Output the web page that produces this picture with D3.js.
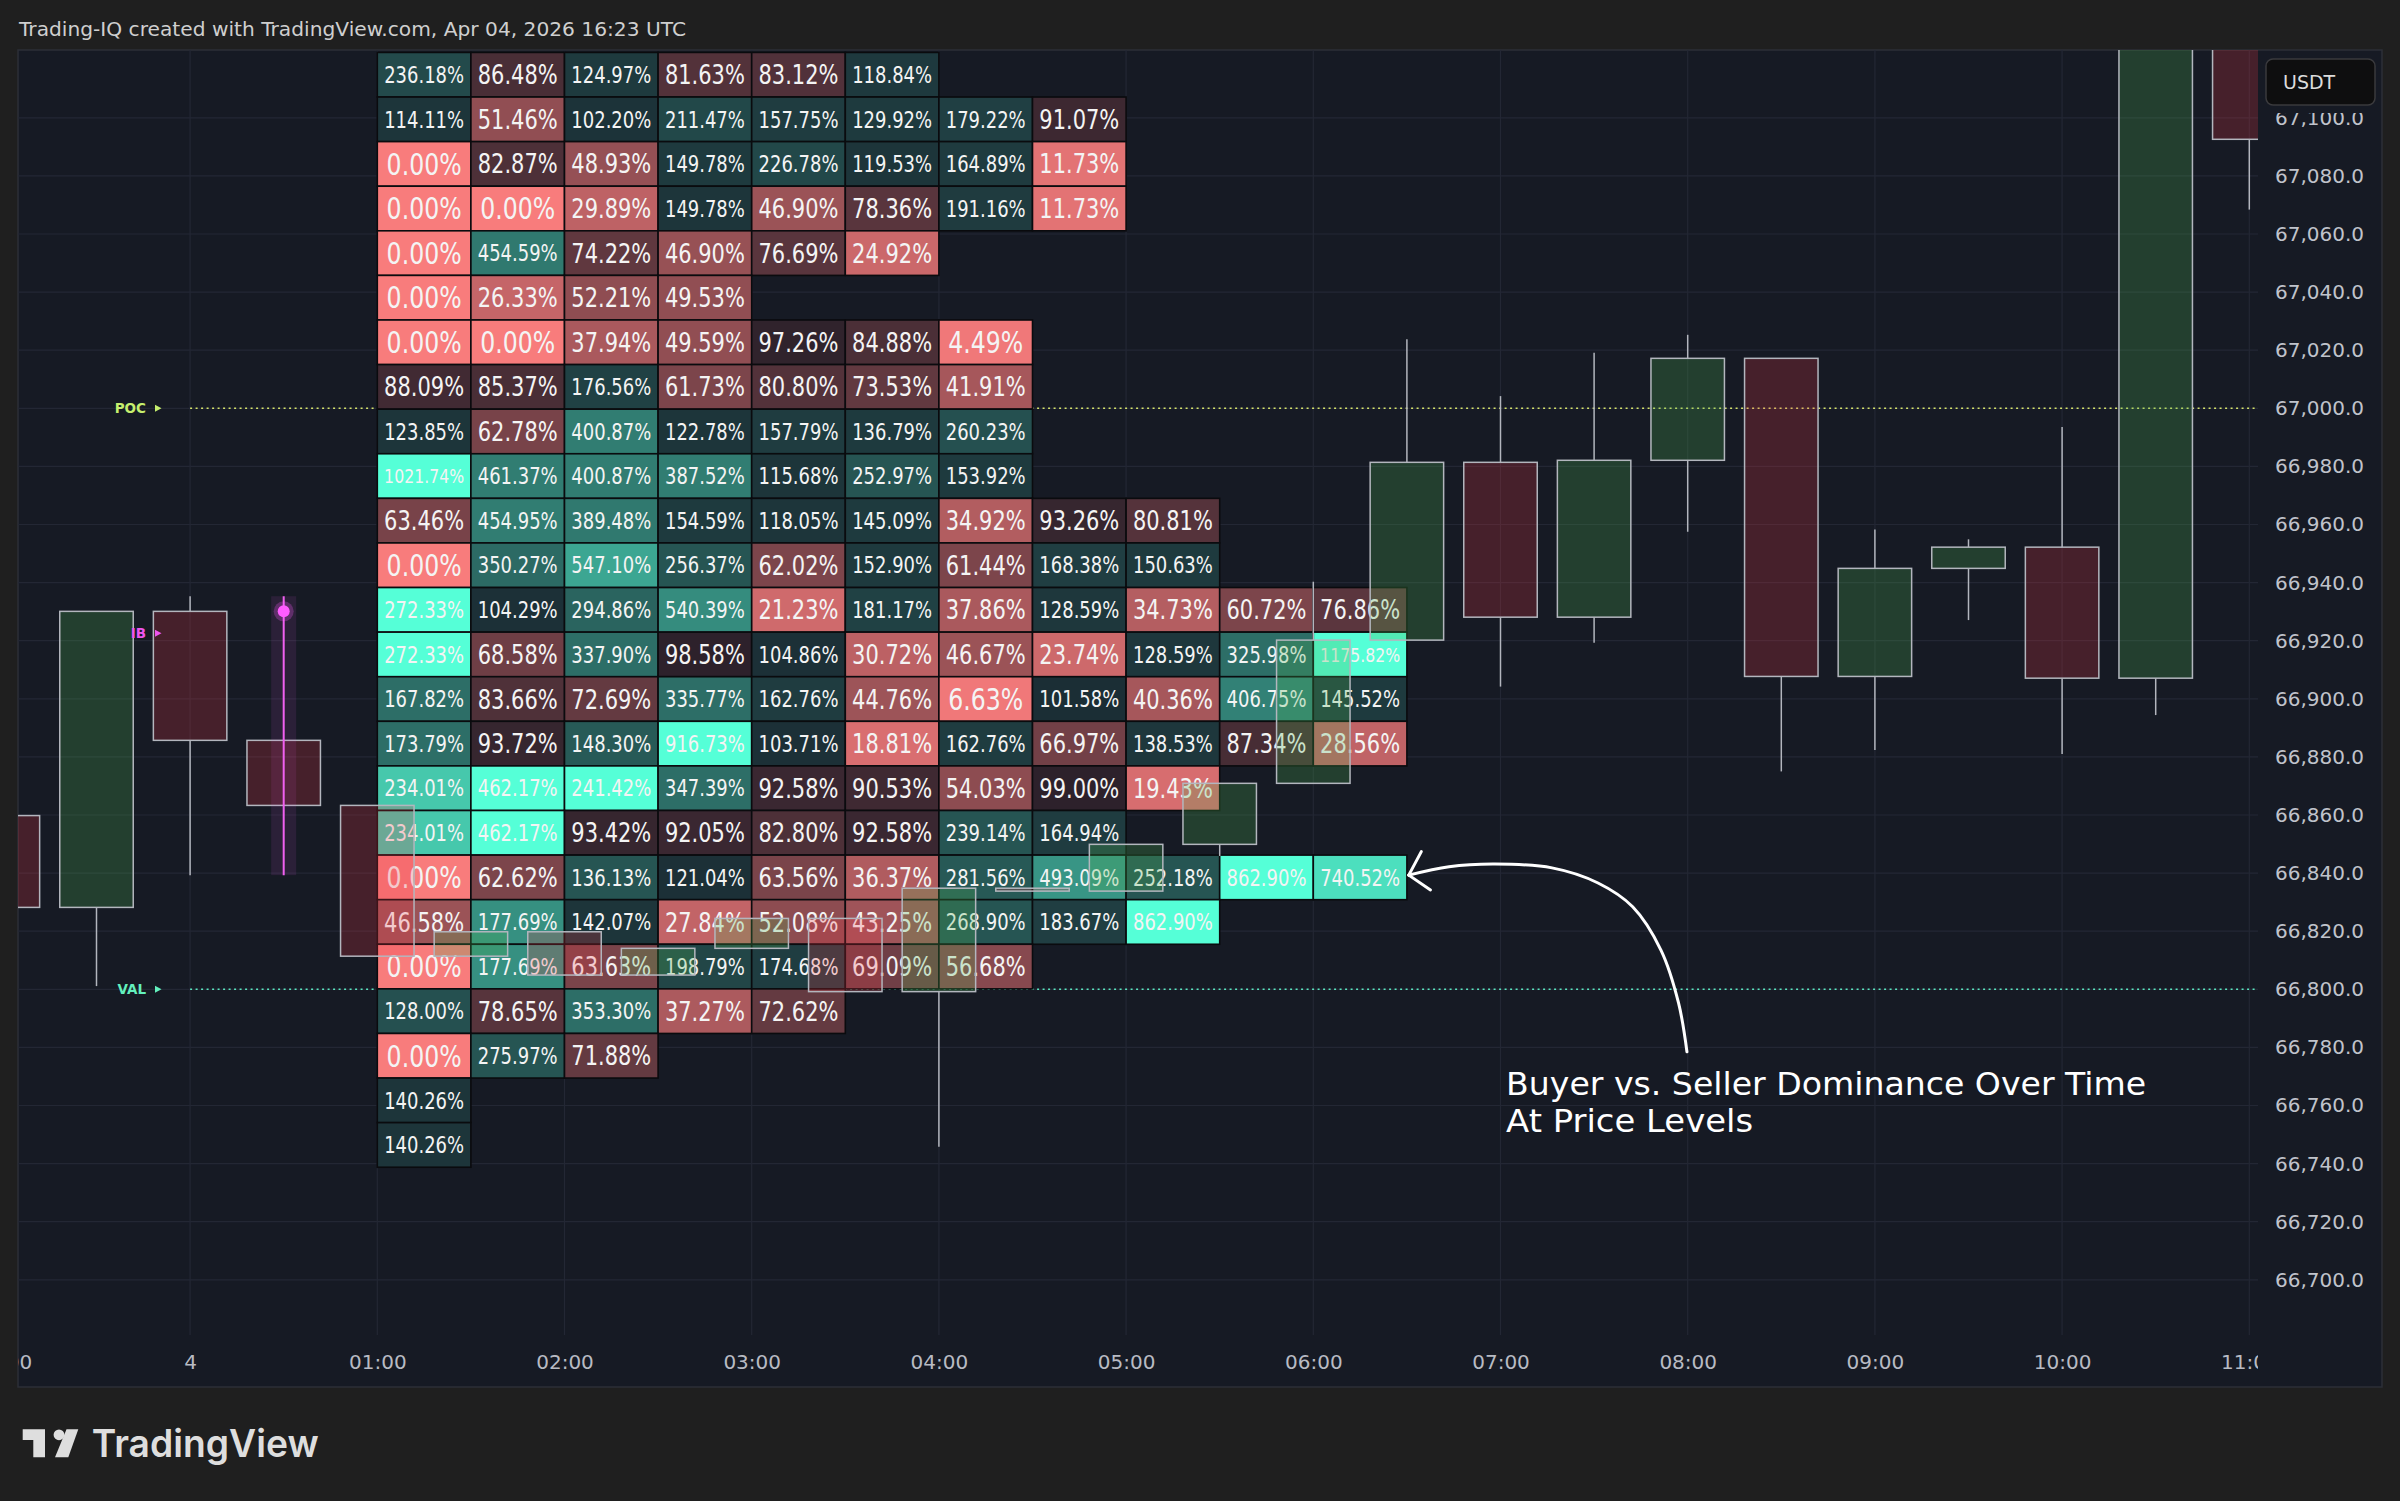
<!DOCTYPE html>
<html>
<head>
<meta charset="utf-8">
<script src="https://cdn.jsdelivr.net/npm/d3@7"></script>
<style>
html, body { margin: 0; padding: 0; background: #1f1f1f; }
svg { display: block; }
</style>
</head>
<body>
<svg id="chart" width="2400" height="1501"></svg>
<script>
// ---- data ----
var headerText = "Trading-IQ created with TradingView.com, Apr 04, 2026 16:23 UTC";

// 30 min candles
var candleTime = ["2026-04-03 23:00","2026-04-03 23:30","2026-04-04 00:00","2026-04-04 00:30","2026-04-04 01:00",
  "2026-04-04 01:30","2026-04-04 02:00","2026-04-04 02:30","2026-04-04 03:00","2026-04-04 03:30",
  "2026-04-04 04:00","2026-04-04 04:30","2026-04-04 05:00","2026-04-04 05:30","2026-04-04 06:00",
  "2026-04-04 06:30","2026-04-04 07:00","2026-04-04 07:30","2026-04-04 08:00","2026-04-04 08:30",
  "2026-04-04 09:00","2026-04-04 09:30","2026-04-04 10:00","2026-04-04 10:30","2026-04-04 11:00"];
var candleOpen  = [66859.8, 66828.2, 66930.1, 66885.7, 66863.3, 66811.4, 66819.8, 66804.9, 66814.1, 66824.4, 66799.2, 66834.8, 66833.8, 66849.9, 66870.9, 66920.2, 66981.4, 66928.1, 66982.1, 67017.2, 66907.7, 66944.9, 66952.2, 66907.1, 67135.0];
var candleHigh  = [66859.8, 66930.1, 66935.3, 66885.7, 66863.3, 66819.8, 66819.8, 66814.1, 66824.4, 66824.4, 66834.8, 66834.8, 66849.9, 66870.9, 66940.3, 67023.8, 67004.2, 67019.1, 67025.3, 67017.2, 66958.3, 66954.9, 66993.6, 67135.0, 67135.0];
var candleLow   = [66828.2, 66801.1, 66839.3, 66863.3, 66811.4, 66811.4, 66804.9, 66804.9, 66814.1, 66799.2, 66745.8, 66833.8, 66833.8, 66845.9, 66870.9, 66920.2, 66904.2, 66919.3, 66957.5, 66875.0, 66882.4, 66927.1, 66881.0, 66894.4, 67068.4];
var candleClose = [66828.2, 66930.1, 66885.7, 66863.3, 66811.4, 66819.8, 66804.9, 66814.1, 66824.4, 66799.2, 66834.8, 66833.8, 66849.9, 66870.9, 66920.2, 66981.4, 66928.1, 66982.1, 67017.2, 66907.7, 66944.9, 66952.2, 66907.1, 67135.0, 67092.6];

// dominance table: rows from top price bin down, columns = 30 min periods from 01:00
var tableStart = "2026-04-04 01:00";
var tableTopPrice = 67122.5;
var tableBinSize = 15.35;
var cellValues = [
  [236.18, 86.48, 124.97, 81.63, 83.12, 118.84],
  [114.11, 51.46, 102.20, 211.47, 157.75, 129.92, 179.22, 91.07],
  [0.00, 82.87, 48.93, 149.78, 226.78, 119.53, 164.89, 11.73],
  [0.00, 0.00, 29.89, 149.78, 46.90, 78.36, 191.16, 11.73],
  [0.00, 454.59, 74.22, 46.90, 76.69, 24.92],
  [0.00, 26.33, 52.21, 49.53],
  [0.00, 0.00, 37.94, 49.59, 97.26, 84.88, 4.49],
  [88.09, 85.37, 176.56, 61.73, 80.80, 73.53, 41.91],
  [123.85, 62.78, 400.87, 122.78, 157.79, 136.79, 260.23],
  [1021.74, 461.37, 400.87, 387.52, 115.68, 252.97, 153.92],
  [63.46, 454.95, 389.48, 154.59, 118.05, 145.09, 34.92, 93.26, 80.81],
  [0.00, 350.27, 547.10, 256.37, 62.02, 152.90, 61.44, 168.38, 150.63],
  [272.33, 104.29, 294.86, 540.39, 21.23, 181.17, 37.86, 128.59, 34.73, 60.72, 76.86],
  [272.33, 68.58, 337.90, 98.58, 104.86, 30.72, 46.67, 23.74, 128.59, 325.98, 1175.82],
  [167.82, 83.66, 72.69, 335.77, 162.76, 44.76, 6.63, 101.58, 40.36, 406.75, 145.52],
  [173.79, 93.72, 148.30, 916.73, 103.71, 18.81, 162.76, 66.97, 138.53, 87.34, 28.56],
  [234.01, 462.17, 241.42, 347.39, 92.58, 90.53, 54.03, 99.00, 19.43],
  [234.01, 462.17, 93.42, 92.05, 82.80, 92.58, 239.14, 164.94],
  [0.00, 62.62, 136.13, 121.04, 63.56, 36.37, 281.56, 493.09, 252.18, 862.90, 740.52],
  [46.58, 177.69, 142.07, 27.84, 52.08, 43.25, 268.90, 183.67, 862.90],
  [0.00, 177.69, 63.63, 198.79, 174.68, 69.09, 56.68],
  [128.00, 78.65, 353.30, 37.27, 72.62],
  [0.00, 275.97, 71.88],
  [140.26],
  [140.26]
];
// colour strength of every cell (0 = dark, 1 = full colour)
var cellShades = [
  [0.15, 0.15, 0.075, 0.2, 0.19, 0.07],
  [0.05, 0.5, 0.04, 0.14, 0.085, 0.075, 0.1, 0.09],
  [1, 0.17, 0.52, 0.075, 0.14, 0.05, 0.08, 0.9],
  [1, 1, 0.72, 0.05, 0.55, 0.23, 0.08, 0.9],
  [1, 0.37, 0.26, 0.53, 0.23, 0.78],
  [1, 0.75, 0.49, 0.5],
  [1, 1, 0.62, 0.5, 0.03, 0.16, 0.96],
  [0.11, 0.15, 0.11, 0.4, 0.2, 0.27, 0.6],
  [0.05, 0.38, 0.39, 0.05, 0.085, 0.075, 0.18],
  [1, 0.39, 0.39, 0.39, 0.05, 0.2, 0.075],
  [0.38, 0.39, 0.37, 0.075, 0.05, 0.075, 0.66, 0.06, 0.21],
  [1, 0.3, 0.58, 0.2, 0.4, 0.075, 0.4, 0.094, 0.075],
  [1, 0.03, 0.27, 0.46, 0.8, 0.11, 0.62, 0.06, 0.67, 0.4, 0.24],
  [1, 0.33, 0.32, 0.015, 0.03, 0.71, 0.55, 0.79, 0.06, 0.32, 1],
  [0.32, 0.18, 0.28, 0.32, 0.085, 0.56, 0.96, 0.02, 0.6, 0.41, 0.075],
  [0.32, 0.06, 0.225, 1, 0.03, 0.85, 0.085, 0.35, 0.06, 0.14, 0.73],
  [0.74, 1, 1, 0.32, 0.08, 0.1, 0.48, 0.015, 0.84],
  [0.74, 1, 0.06, 0.08, 0.17, 0.08, 0.2, 0.085],
  [1, 0.4, 0.2, 0.03, 0.39, 0.65, 0.22, 0.5, 0.2, 1, 0.85],
  [0.55, 0.48, 0.05, 0.74, 0.48, 0.57, 0.2, 0.094, 1],
  [1, 0.48, 0.39, 0.13, 0.09, 0.34, 0.45],
  [0.18, 0.22, 0.32, 0.63, 0.28],
  [1, 0.2, 0.28],
  [0.05],
  [0.05]
];

// profile levels
var levelNames = ["POC", "VAL", "IB"];
var levelPrices = [67000, 66800, 66922.6];
var levelLineStart = "2026-04-04 00:00";
// initial balance range marker
var ibTime = "2026-04-04 00:30";
var ibHigh = 66935.3, ibLow = 66839.3, ibDot = 66930.1;

var priceTicks = [66700, 66720, 66740, 66760, 66780, 66800, 66820, 66840, 66860, 66880, 66900,
  66920, 66940, 66960, 66980, 67000, 67020, 67040, 67060, 67080, 67100];
var timeTicks = ["2026-04-03 23:00","2026-04-04 00:00","2026-04-04 01:00","2026-04-04 02:00","2026-04-04 03:00",
  "2026-04-04 04:00","2026-04-04 05:00","2026-04-04 06:00","2026-04-04 07:00","2026-04-04 08:00",
  "2026-04-04 09:00","2026-04-04 10:00","2026-04-04 11:00"];

// annotation (hours after 00:00, price)
var noteLines = ["Buyer vs. Seller Dominance Over Time", "At Price Levels"];
var noteAt = [7.03, 66763.6];
var arrowCurve = [[7.996, 66778.5], [7.951, 66795.3], [7.857, 66813.5], [7.706, 66828.4], [7.521, 66836.6],
  [7.275, 66841.8], [6.970, 66843.1], [6.725, 66842.2], [6.510, 66839.3]];
var arrowBarbs = [[6.577, 66847.4], [6.626, 66834.2]];

// ---- layout ----
var W = 2400, H = 1501;
var pane = {left: 18, top: 50, right: 2382, bottom: 1387};
var plot = {left: 18, top: 50, right: 2258, bottom: 1335};
var font = "'DejaVu Sans', sans-serif";
var paneBg = "#161a24";

var parse = d3.utcParse("%Y-%m-%d %H:%M");
var dayStart = parse("2026-04-04 00:00");
function atHour(h){ return new Date(dayStart.getTime() + h * 3600000); }
var halfHour = 30 * 60000;

var xScale = d3.scaleUtc()
  .domain([parse("2026-04-04 00:00"), parse("2026-04-04 11:00")])
  .range([190.1, 2249.3]);
var yScale = d3.scaleLinear()
  .domain([67000, 66700])
  .range([408.3, 1279.8]);

var buyColor = d3.interpolateRgb("rgb(26,42,50)", "rgb(85,255,215)");
var sellColor = d3.interpolateRgb("rgb(42,32,42)", "rgb(248,124,124)");

var svg = d3.select("#chart");
svg.append("rect").attr("width", W).attr("height", H).attr("fill", "#1f1f1f");

svg.append("text")
  .attr("x", 19).attr("y", 36)
  .attr("fill", "#cfcfcf")
  .style("font-family", font).style("font-size", "20px")
  .attr("textLength", 667).attr("lengthAdjust", "spacingAndGlyphs")
  .text(headerText);

svg.append("rect")
  .attr("x", pane.left).attr("y", pane.top)
  .attr("width", pane.right - pane.left).attr("height", pane.bottom - pane.top)
  .attr("fill", paneBg).attr("stroke", "#2c2f37").attr("stroke-width", 1.5);

var defs = svg.append("defs");
defs.append("clipPath").attr("id", "plotClip").append("rect")
  .attr("x", plot.left).attr("y", plot.top)
  .attr("width", plot.right - plot.left).attr("height", plot.bottom - plot.top);
defs.append("clipPath").attr("id", "timeClip").append("rect")
  .attr("x", plot.left).attr("y", plot.bottom)
  .attr("width", plot.right - plot.left).attr("height", pane.bottom - plot.bottom);

var g = svg.append("g").attr("clip-path", "url(#plotClip)");

// grid
g.selectAll(".hgrid").data(priceTicks).enter().append("line")
  .attr("x1", plot.left).attr("x2", plot.right)
  .attr("y1", d => yScale(d)).attr("y2", d => yScale(d))
  .attr("stroke", "#232734").attr("stroke-width", 1.2);
g.selectAll(".vgrid").data(timeTicks).enter().append("line")
  .attr("x1", d => xScale(parse(d))).attr("x2", d => xScale(parse(d)))
  .attr("y1", plot.top).attr("y2", plot.bottom)
  .attr("stroke", "#232734").attr("stroke-width", 1.2);

// POC / VAL dotted lines (under the table)
var levelLineColor = {POC: "#d6e36a", VAL: "#5be6bf"};
[0, 1].forEach(function(i){
  g.append("line")
    .attr("x1", xScale(parse(levelLineStart))).attr("x2", plot.right)
    .attr("y1", yScale(levelPrices[i])).attr("y2", yScale(levelPrices[i]))
    .attr("stroke", levelLineColor[levelNames[i]])
    .attr("stroke-width", 1.6).attr("stroke-dasharray", "2,3.5");
});

// dominance table
var t0 = parse(tableStart);
var cells = [];
cellValues.forEach(function(row, r){
  row.forEach(function(v, c){
    cells.push({r: r, c: c, v: v, s: cellShades[r][c]});
  });
});

var cellG = g.selectAll(".cell").data(cells).enter().append("g").attr("class", "cell");
cellG.append("rect")
  .attr("x", d => xScale(new Date(t0.getTime() + d.c * halfHour)))
  .attr("y", d => yScale(tableTopPrice - d.r * tableBinSize))
  .attr("width", d => xScale(new Date(t0.getTime() + (d.c + 1) * halfHour)) - xScale(new Date(t0.getTime() + d.c * halfHour)))
  .attr("height", d => yScale(tableTopPrice - (d.r + 1) * tableBinSize) - yScale(tableTopPrice - d.r * tableBinSize))
  .attr("fill", d => d.v >= 100 ? buyColor(d.s) : sellColor(d.s))
  .attr("stroke", "#0a0b0e").attr("stroke-width", 1.6);

cellG.append("text")
  .attr("text-anchor", "middle")
  .attr("fill", "#f4f4f4")
  .style("font-family", font)
  .style("font-size", "10px")
  .text(d => d.v.toFixed(2) + "%")
  .each(function(d){
    var w10 = this.getComputedTextLength();
    var fs = Math.min(29.5, 80 / (0.8 * w10 / 10));
    var cx = (xScale(new Date(t0.getTime() + d.c * halfHour)) + xScale(new Date(t0.getTime() + (d.c + 1) * halfHour))) / 2;
    var cy = yScale(tableTopPrice - (d.r + 0.5) * tableBinSize);
    d3.select(this).style("font-size", fs + "px")
      .attr("transform", "translate(" + cx + "," + (cy + 0.365 * fs) + ") scale(0.8,1)");
  });

// candles (drawn over the table, translucent)
var candles = candleTime.map(function(t, i){
  return {t: parse(t), o: candleOpen[i], h: candleHigh[i], l: candleLow[i], c: candleClose[i]};
});
var bodyW = (xScale(new Date(t0.getTime() + halfHour)) - xScale(t0)) * 0.785;
var outline = "#b3b6be";

var cg = g.selectAll(".candle").data(candles).enter().append("g").attr("class", "candle");
cg.append("line")
  .attr("x1", d => xScale(d.t)).attr("x2", d => xScale(d.t))
  .attr("y1", d => yScale(d.h)).attr("y2", d => yScale(Math.max(d.o, d.c)))
  .attr("stroke", outline).attr("stroke-width", 1.5);
cg.append("line")
  .attr("x1", d => xScale(d.t)).attr("x2", d => xScale(d.t))
  .attr("y1", d => yScale(Math.min(d.o, d.c))).attr("y2", d => yScale(d.l))
  .attr("stroke", outline).attr("stroke-width", 1.5);
cg.append("rect")
  .attr("x", d => xScale(d.t) - bodyW / 2)
  .attr("y", d => yScale(Math.max(d.o, d.c)))
  .attr("width", bodyW)
  .attr("height", d => Math.max(1, yScale(Math.min(d.o, d.c)) - yScale(Math.max(d.o, d.c))))
  .attr("fill", d => d.c >= d.o ? "rgba(76,175,80,0.25)" : "rgba(242,54,69,0.22)")
  .attr("stroke", outline).attr("stroke-width", 1.5);

// initial balance marker
var ibx = xScale(parse(ibTime));
g.append("rect")
  .attr("x", ibx - 12.5).attr("width", 25)
  .attr("y", yScale(ibHigh)).attr("height", yScale(ibLow) - yScale(ibHigh))
  .attr("fill", "rgba(238,85,238,0.10)");
g.append("line")
  .attr("x1", ibx).attr("x2", ibx)
  .attr("y1", yScale(ibHigh)).attr("y2", yScale(ibLow))
  .attr("stroke", "#f060f0").attr("stroke-width", 2);
g.append("circle").attr("cx", ibx).attr("cy", yScale(ibDot)).attr("r", 10)
  .attr("fill", "rgba(255,92,255,0.25)");
g.append("circle").attr("cx", ibx).attr("cy", yScale(ibDot)).attr("r", 6)
  .attr("fill", "#ff5cff");

// level labels
var levelLabelColor = {POC: "#c6ef6e", VAL: "#63f0bd", IB: "#ee55ee"};
levelNames.forEach(function(n, i){
  var y = yScale(levelPrices[i]);
  g.append("text")
    .attr("x", 146).attr("y", y + 5)
    .attr("text-anchor", "end")
    .attr("fill", levelLabelColor[n])
    .style("font-family", font).style("font-size", "13.5px").style("font-weight", "bold")
    .text(n);
  g.append("path")
    .attr("d", "M" + 155 + "," + (y - 3.5) + "L" + 161.5 + "," + y + "L" + 155 + "," + (y + 3.5) + "Z")
    .attr("fill", levelLabelColor[n]);
});

// annotation
var arrowLine = d3.line()
  .x(d => xScale(atHour(d[0])))
  .y(d => yScale(d[1]))
  .curve(d3.curveCatmullRom);
g.append("path").datum(arrowCurve)
  .attr("d", arrowLine)
  .attr("fill", "none").attr("stroke", "#ffffff").attr("stroke-width", 3).attr("stroke-linecap", "round");
var tip = arrowCurve[arrowCurve.length - 1];
arrowBarbs.forEach(function(b){
  g.append("path").datum([tip, b])
    .attr("d", d3.line().x(d => xScale(atHour(d[0]))).y(d => yScale(d[1])))
    .attr("fill", "none").attr("stroke", "#ffffff").attr("stroke-width", 3).attr("stroke-linecap", "round");
});
var noteWidths = [640, 247];
noteLines.forEach(function(t, i){
  g.append("text")
    .attr("x", xScale(atHour(noteAt[0])))
    .attr("y", yScale(noteAt[1]) + i * 36.7)
    .attr("fill", "#ffffff")
    .style("font-family", font).style("font-size", "32px")
    .attr("textLength", noteWidths[i]).attr("lengthAdjust", "spacingAndGlyphs")
    .text(t);
});

// time axis
var xAxis = d3.axisBottom(xScale)
  .tickValues(timeTicks.map(parse))
  .tickSize(0).tickPadding(20)
  .tickFormat(function(d){ return d.getUTCHours() === 0 ? d3.utcFormat("%-d")(d) : d3.utcFormat("%H:%M")(d); });
var gx = svg.append("g").attr("clip-path", "url(#timeClip)")
  .append("g").attr("transform", "translate(0," + plot.bottom + ")").call(xAxis);
gx.select(".domain").remove();
gx.selectAll("text").attr("fill", "#b8bbc3").style("font-family", font).style("font-size", "20px");

// price axis
var yAxis = d3.axisRight(yScale)
  .tickValues(priceTicks)
  .tickSize(0).tickPadding(17)
  .tickFormat(d3.format(",.1f"));
var gy = svg.append("g").attr("transform", "translate(" + plot.right + ",0)").call(yAxis);
gy.select(".domain").remove();
gy.selectAll("text").attr("fill", "#c0c3cb").style("font-family", font).style("font-size", "20px").attr("text-anchor", "start");

// currency badge
svg.append("rect").attr("x", plot.right + 1).attr("y", pane.top + 1)
  .attr("width", pane.right - plot.right - 2).attr("height", 62).attr("fill", paneBg);
svg.append("rect").attr("x", 2266).attr("y", 59).attr("width", 109).attr("height", 46).attr("rx", 7)
  .attr("fill", "#0e0e0f").attr("stroke", "#3a3a3d").attr("stroke-width", 1.5);
svg.append("text").attr("x", 2283).attr("y", 88.5)
  .attr("fill", "#dcdcdc").style("font-family", font).style("font-size", "19px")
  .text("USDT");

// TradingView logo
var logo = svg.append("g").attr("fill", "#dedede");
logo.append("path").attr("d", "M22.7,1429.3H45V1457.3H33.3V1440H22.7Z");
logo.append("circle").attr("cx", 59).attr("cy", 1434.8).attr("r", 5.4);
logo.append("path").attr("d", "M66.5,1429.3H78.3L68.3,1457.3H55Z");
svg.append("text").attr("x", 91.7).attr("y", 1457.3)
  .attr("fill", "#dedede")
  .style("font-family", "Inter, 'DejaVu Sans', sans-serif").style("font-size", "38px").style("font-weight", "600")
  .attr("textLength", 227).attr("lengthAdjust", "spacingAndGlyphs")
  .text("TradingView");
</script>
</body>
</html>
